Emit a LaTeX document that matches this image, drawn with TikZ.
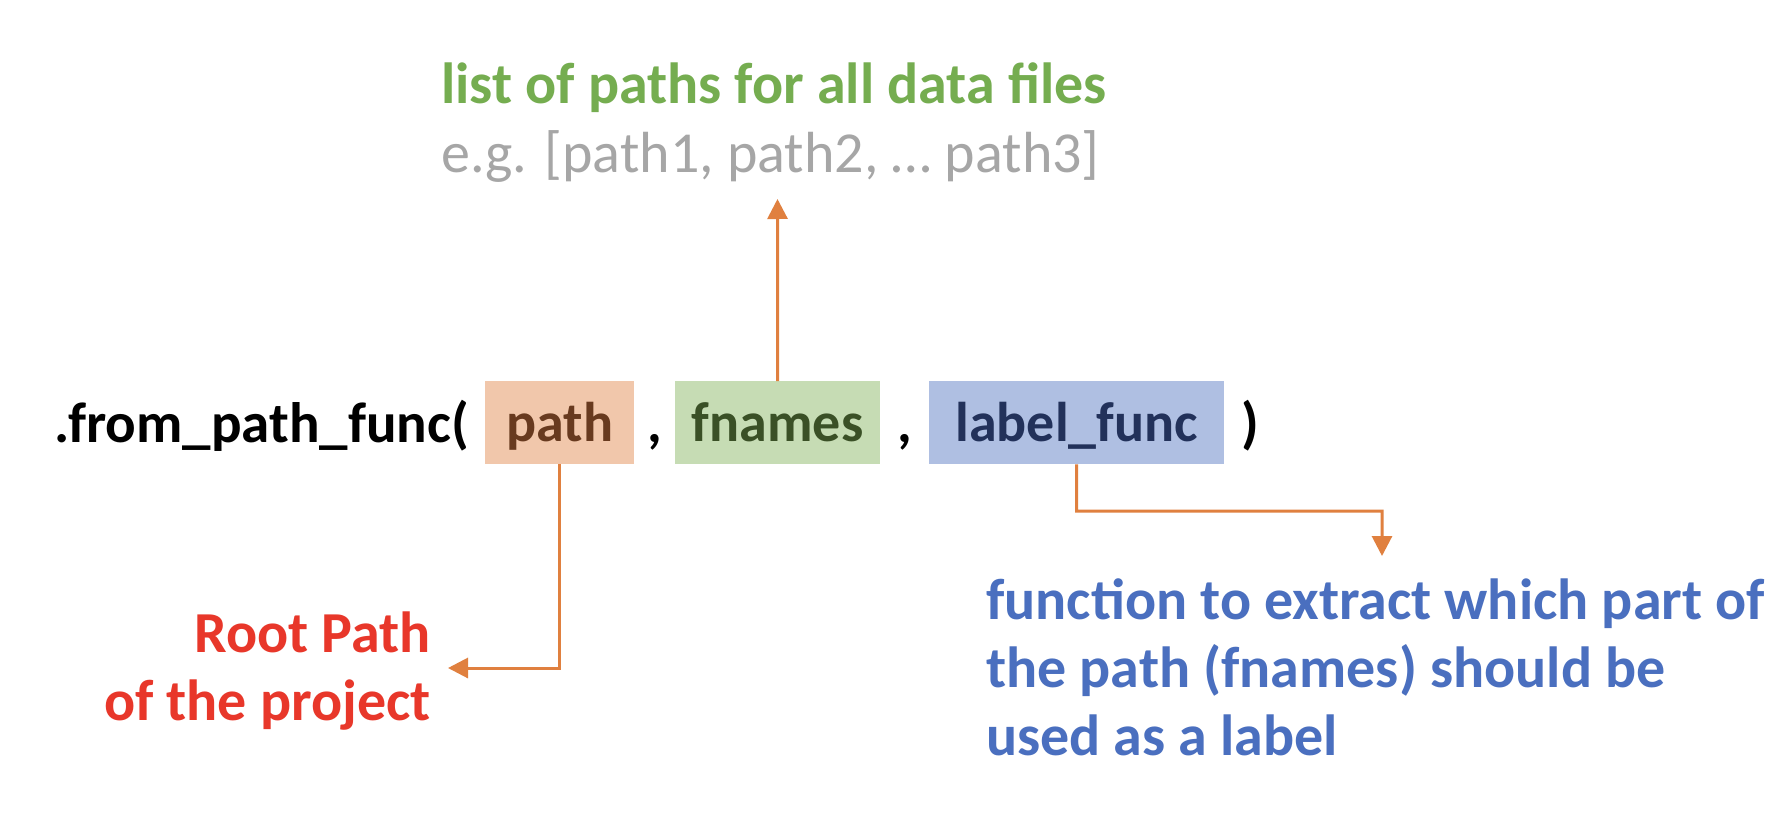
\documentclass[tikz,border=0pt]{standalone}
\usepackage{fontspec}
\setmainfont{Carlito}
\usetikzlibrary{arrows.meta}
\definecolor{arr}{HTML}{E0803F}
\definecolor{ttlgreen}{HTML}{75AD50}
\definecolor{ttlgray}{HTML}{A6A6A6}
\definecolor{rootred}{HTML}{E8372A}
\definecolor{descblue}{HTML}{4A6FBF}
\definecolor{pathfill}{HTML}{F1C7AB}
\definecolor{pathtext}{HTML}{683A1F}
\definecolor{fnfill}{HTML}{C6DCB4}
\definecolor{fntext}{HTML}{3A5026}
\definecolor{lbfill}{HTML}{AFBFE2}
\definecolor{lbtext}{HTML}{22315A}
\begin{document}
\begin{tikzpicture}[x=1bp,y=-1bp,
  txt/.style={font=\fontsize{57bp}{68bp}\selectfont\bfseries, inner sep=0pt},
  dtxt/.style={font=\fontsize{58bp}{68bp}\selectfont\bfseries, inner sep=0pt},
  argbox/.style={font=\fontsize{56bp}{68bp}\selectfont\bfseries, inner sep=0pt, minimum height=83bp, text height=46bp, text depth=8bp, anchor=north west},
  conn/.style={draw=arr, line width=3bp, -{Triangle[length=20bp,width=20bp]}}
]
\fill[white] (0,0) rectangle (1790,822);
\useasboundingbox (0,0) rectangle (1790,822);

% main call line
\node[txt, anchor=base west] (call) at (54,442) {.from\_path\_func(};
\node[argbox, fill=pathfill, text=pathtext, minimum width=149bp] (path) at (485,381) {path};
\node[txt, anchor=base] (c1) at (654.5,442) {,};
\node[argbox, fill=fnfill, text=fntext, minimum width=205bp] (fnames) at (675,381) {fnames};
\node[txt, anchor=base] (c2) at (904.5,442) {,};
\node[argbox, fill=lbfill, text=lbtext, minimum width=295bp] (label) at (929,381) {label\_func};
\node[txt, anchor=base] (close) at (1250,442) {)};

% top description
\node[dtxt, text=ttlgreen, anchor=base west] (ttl1) at (441,103) {list of paths for all data files};
\node[dtxt, font=\fontsize{58bp}{68bp}\selectfont, text=ttlgray, anchor=base west] (ttl2) at (441,172) {e.g. [path1, path2, … path3]};

% left description
\node[dtxt, text=rootred, align=right, anchor=north east] (root) at (431,612) {Root Path\\of the project};

% right description
\node[dtxt, text=descblue, align=left, anchor=north west] (desc) at (986,579) {function to extract which part of\\the path (fnames) should be\\used as a label};

% connectors
\coordinate (toptip) at (777.5,199);
\coordinate (lefttip) at (448,668);
\coordinate (rightbend) at (1076.5,511);
\coordinate (righttip) at (1382,556);
\draw[conn] (fnames.north) -- (toptip);
\draw[conn] (path.south) |- (lefttip);
\draw[conn] (label.south) -- (rightbend) -| (righttip);
\end{tikzpicture}
\end{document}
